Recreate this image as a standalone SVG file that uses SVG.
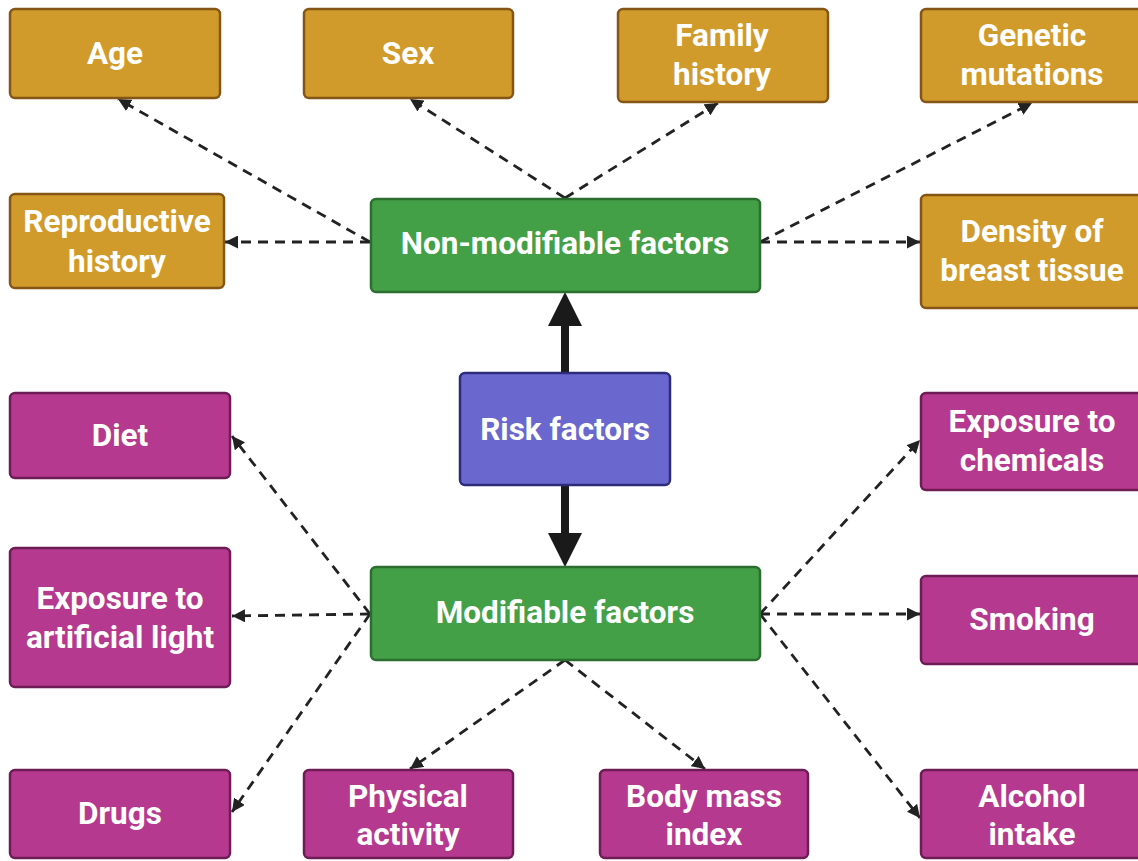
<svg xmlns="http://www.w3.org/2000/svg" width="1138" height="861" viewBox="0 0 1138 861">
<style>
.box{stroke-width:2.5}
.gold{fill:#D19B2B;stroke:#855515}
.green{fill:#44A047;stroke:#2C6E2F}
.blue{fill:#6A67CE;stroke:#2E2C7A}
.mag{fill:#B4398F;stroke:#6D1C55}
text{font-family:Roboto,"Liberation Sans",sans-serif;font-weight:bold;font-size:31.5px;fill:#fff;text-anchor:middle}
.dash{fill:none;stroke:#222;stroke-width:2.8;stroke-dasharray:10 7;marker-end:url(#ah)}
</style>
<defs>
<marker id="ah" viewBox="0 0 10 10" refX="10" refY="5" markerWidth="13" markerHeight="13" markerUnits="userSpaceOnUse" orient="auto">
<path d="M0,0 L10,5 L0,10 z" fill="#222"/>
</marker>
</defs>
<rect width="1138" height="861" fill="#fff"/>
<g id="connectors">
<line class="dash" x1="370" y1="242" x2="118" y2="99"/>
<line class="dash" x1="565" y1="198" x2="410" y2="99"/>
<line class="dash" x1="565" y1="198" x2="718" y2="103"/>
<line class="dash" x1="760" y1="242" x2="1032" y2="103"/>
<line class="dash" x1="370" y1="242" x2="225" y2="242"/>
<line class="dash" x1="760" y1="242" x2="920" y2="242"/>
<line class="dash" x1="370" y1="614" x2="232" y2="436"/>
<line class="dash" x1="370" y1="614" x2="232" y2="616"/>
<line class="dash" x1="370" y1="614" x2="232" y2="812"/>
<line class="dash" x1="565" y1="660" x2="410" y2="769"/>
<line class="dash" x1="565" y1="660" x2="705" y2="769"/>
<line class="dash" x1="760" y1="614" x2="920" y2="818"/>
<line class="dash" x1="760" y1="614" x2="920" y2="440"/>
<line class="dash" x1="760" y1="614" x2="920" y2="614"/>
<line x1="565" y1="373" x2="565" y2="324" stroke="#1a1a1a" stroke-width="8"/>
<polygon points="565,292 548,326 582,326" fill="#1a1a1a"/>
<line x1="565" y1="485" x2="565" y2="535" stroke="#1a1a1a" stroke-width="8"/>
<polygon points="565,567 548,533 582,533" fill="#1a1a1a"/>
</g>
<g id="age"><rect class="box gold" x="10" y="9" width="210" height="89" rx="5"/><text x="115" y="64">Age</text></g>
<g id="sex"><rect class="box gold" x="304" y="9" width="209" height="89" rx="5"/><text x="408" y="64">Sex</text></g>
<g id="family"><rect class="box gold" x="618" y="9" width="210" height="93" rx="5"/><text x="722" y="46">Family</text><text x="722" y="85">history</text></g>
<g id="genetic"><rect class="box gold" x="921" y="9" width="222" height="93" rx="5"/><text x="1032" y="46">Genetic</text><text x="1032" y="85">mutations</text></g>
<g id="reproductive"><rect class="box gold" x="10" y="194" width="214" height="94" rx="5"/><text x="117" y="232">Reproductive</text><text x="117" y="272">history</text></g>
<g id="density"><rect class="box gold" x="921" y="195" width="222" height="113" rx="5"/><text x="1032" y="242">Density of</text><text x="1032" y="281">breast tissue</text></g>
<g id="nonmod"><rect class="box green" x="371" y="199" width="389" height="93" rx="5"/><text x="565" y="254">Non-modifiable factors</text></g>
<g id="risk"><rect class="box blue" x="460" y="373" width="210" height="112" rx="5"/><text x="565" y="440">Risk factors</text></g>
<g id="mod"><rect class="box green" x="371" y="567" width="389" height="93" rx="5"/><text x="565" y="623">Modifiable factors</text></g>
<g id="diet"><rect class="box mag" x="10" y="393" width="220" height="85" rx="5"/><text x="120" y="446">Diet</text></g>
<g id="light"><rect class="box mag" x="10" y="548" width="220" height="139" rx="5"/><text x="120" y="609">Exposure to</text><text x="120" y="648">artificial light</text></g>
<g id="drugs"><rect class="box mag" x="10" y="770" width="220" height="88" rx="5"/><text x="120" y="824">Drugs</text></g>
<g id="physical"><rect class="box mag" x="304" y="770" width="209" height="88" rx="5"/><text x="408" y="807">Physical</text><text x="408" y="845">activity</text></g>
<g id="bmi"><rect class="box mag" x="600" y="770" width="208" height="88" rx="5"/><text x="704" y="807">Body mass</text><text x="704" y="845">index</text></g>
<g id="alcohol"><rect class="box mag" x="921" y="770" width="222" height="88" rx="5"/><text x="1032" y="807">Alcohol</text><text x="1032" y="845">intake</text></g>
<g id="chemicals"><rect class="box mag" x="921" y="393" width="222" height="97" rx="5"/><text x="1032" y="432">Exposure to</text><text x="1032" y="471">chemicals</text></g>
<g id="smoking"><rect class="box mag" x="921" y="576" width="222" height="88" rx="5"/><text x="1032" y="630">Smoking</text></g>
</svg>
